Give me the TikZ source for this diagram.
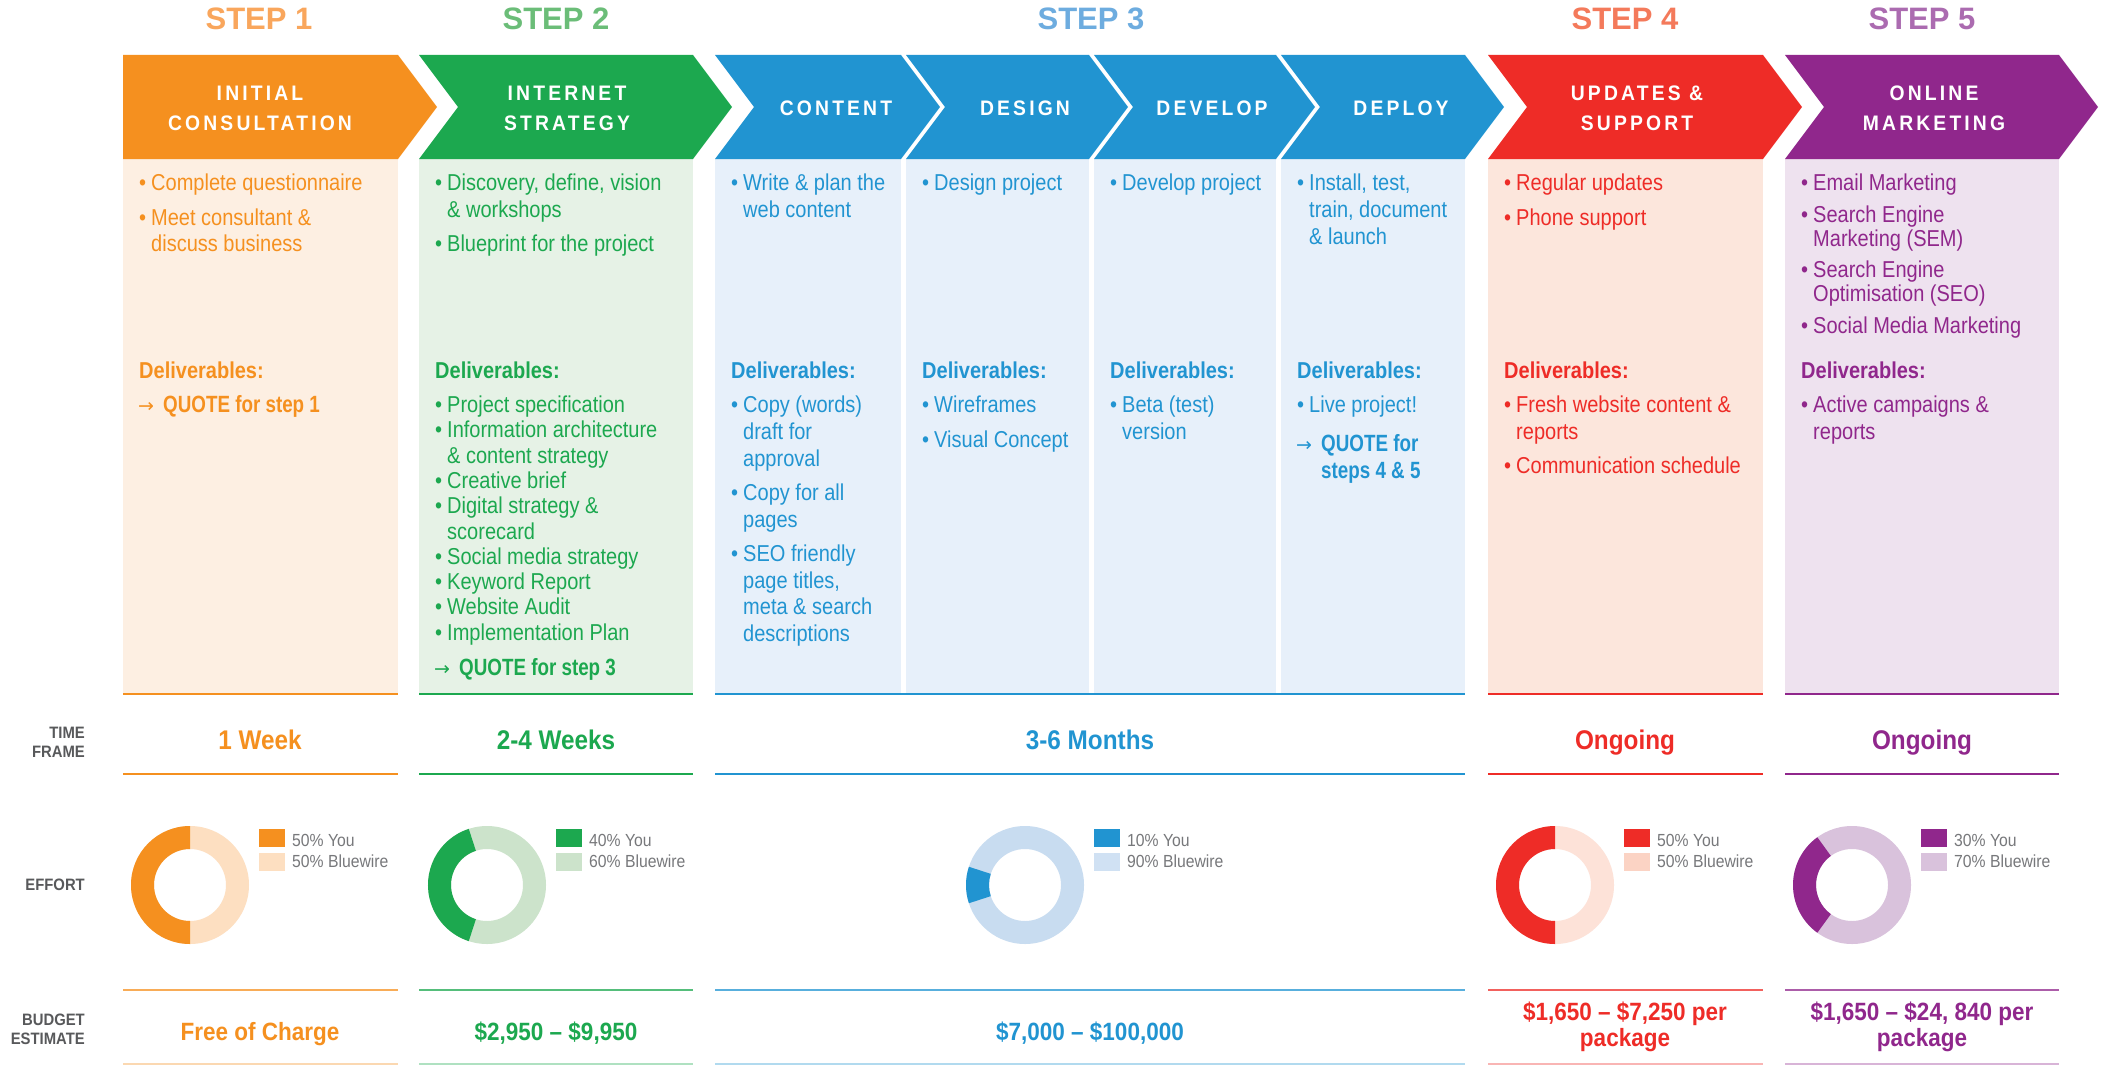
\documentclass[tikz,border=0pt]{standalone}
\usepackage{fontspec}
\setmainfont{Liberation Sans}
\newfontfamily\cnd[FakeStretch=0.87]{Liberation Sans}
\newfontfamily\cnn[FakeStretch=0.9]{Liberation Sans}
\newfontfamily\cnq[FakeStretch=0.8]{Liberation Sans}
\newfontfamily\hdf[FakeStretch=0.92,LetterSpace=15]{Liberation Sans}
\newfontfamily\arw{DejaVu Sans}
\definecolor{cO}{HTML}{F5901F}
\definecolor{cG}{HTML}{1CA84F}
\definecolor{cB}{HTML}{2194D1}
\definecolor{cR}{HTML}{EE2C27}
\definecolor{cP}{HTML}{90278C}
\definecolor{sO}{HTML}{F9A65C}
\definecolor{sG}{HTML}{6BBD78}
\definecolor{sB}{HTML}{6DACDF}
\definecolor{sR}{HTML}{F47A5B}
\definecolor{sP}{HTML}{AB6BB0}
\definecolor{bO}{HTML}{FDEFE2}
\definecolor{bG}{HTML}{E6F2E6}
\definecolor{bB}{HTML}{E7F0FA}
\definecolor{bR}{HTML}{FCE6DC}
\definecolor{bP}{HTML}{EEE2EF}
\definecolor{dO}{HTML}{FDDFC1}
\definecolor{dG}{HTML}{CCE3CB}
\definecolor{dB}{HTML}{C8DCF0}
\definecolor{dR}{HTML}{FDE2D8}
\definecolor{dP}{HTML}{D9C2DC}
\definecolor{lR}{HTML}{FBD3C4}
\definecolor{lB}{HTML}{D0E1F3}
\definecolor{gL}{HTML}{58595B}
\definecolor{gT}{HTML}{77787B}
\tikzset{
  bt/.style={inner sep=0pt,anchor=base west,font={\cnd\fontsize{23}{25}\selectfont}},
  ar/.style={inner sep=0pt,anchor=base west,font={\arw\fontsize{19}{21}\selectfont}},
  dv/.style={inner sep=0pt,anchor=base west,font={\cnd\bfseries\fontsize{23}{25}\selectfont}},
  qt/.style={inner sep=0pt,anchor=base west,font={\cnq\bfseries\fontsize{23.5}{25}\selectfont}},
  steplbl/.style={inner sep=0pt,anchor=base,font={\bfseries\fontsize{31}{33}\selectfont}},
  hdr/.style={inner sep=0pt,anchor=base,text=white,font={\hdf\bfseries\fontsize{21}{23}\selectfont}},
  tfv/.style={inner sep=0pt,anchor=base,font={\cnn\bfseries\fontsize{27}{29}\selectfont}},
  bgv/.style={inner sep=0pt,anchor=base,font={\cnn\bfseries\fontsize{25}{27}\selectfont}},
  rowlbl/.style={inner sep=0pt,anchor=base east,text=gL,font={\cnn\bfseries\fontsize{16.5}{18}\selectfont}},
  lg/.style={inner sep=0pt,anchor=base west,text=gT,font={\cnn\fontsize{17.5}{19}\selectfont}},
}
% bullet line: name, colour, L, y, text
\newcommand\bl[5]{\node[bt,text=#2] (#1d) at (#3+16,#4) {•};\node[bt,text=#2] (#1) at (#3+28,#4) {#5};}
% continuation line
\newcommand\cl[5]{\node[bt,text=#2] (#1) at (#3+28,#4) {#5};}
% deliverables heading
\newcommand\dl[4]{\node[dv,text=#2] (#1) at (#3+16,#4) {Deliverables:};}
% quote line
\newcommand\ql[5]{\node[ar,text=#2] (#1a) at (#3+15,#4) {→};\node[qt,text=#2] (#1) at (#3+40,#4) {#5};}
% chevron: colour, L, R, notch depth
\newcommand\chev[4]{\fill[#1] (#2,55) -- (#3,55) -- (#3+39,107) -- (#3,159) -- (#2,159) -- (#2+#4,107) -- cycle;}
% donut: name, cx, cy, half angle, dark, light
\newcommand\donut[6]{%
  \coordinate (#1) at (#2,#3);
  \begin{scope}[shift={(#1)},y=1pt]
    \fill[#6,even odd rule] (0,0) circle[radius=59] (0,0) circle[radius=36];
    \fill[#5] (180-#4:59) arc[start angle=180-#4,end angle=180+#4,radius=59]
      -- (180+#4:36) arc[start angle=180+#4,end angle=180-#4,radius=36] -- cycle;
  \end{scope}}
% legend: name, cx, dark, light, pct you, pct bluewire
\newcommand\lgd[6]{%
  \fill[#3] (#2+69,829) rectangle ++(26,18);
  \fill[#4] (#2+69,853) rectangle ++(26,18);
  \node[lg] (#1y) at (#2+102,846) {#5\% You};
  \node[lg] (#1w) at (#2+102,867) {#6\% Bluewire};}
% row lines: colour, L, R
\newcommand\rows[3]{%
  \draw[#1,line width=2pt] (#2,694) -- (#3,694);
  \draw[#1,line width=2pt] (#2,774) -- (#3,774);
  \draw[#1!75,line width=2.5pt] (#2,990) -- (#3,990);
  \draw[#1!35,line width=2pt] (#2,1063.5) -- (#3,1063.5);}
\begin{document}
\begin{tikzpicture}[x=1pt,y=-1pt]
\useasboundingbox (0,0) rectangle (2103,1065);
\fill[white] (0,0) rectangle (2103,1065);

% ---------- bodies ----------
\fill[bO] (123,159) rectangle (398,694);
\fill[bG] (419,159) rectangle (693,694);
\fill[bB] (715,159) rectangle (901,694);
\fill[bB] (906,159) rectangle (1089,694);
\fill[bB] (1094,159) rectangle (1276,694);
\fill[bB] (1281,159) rectangle (1465,694);
\fill[bR] (1488,159) rectangle (1763,694);
\fill[bP] (1785,159) rectangle (2059,694);

% ---------- chevrons ----------
\chev{cO}{123}{398}{0}
\chev{cG}{419}{693}{39}
\chev{cB}{715}{901}{39}
\chev{cB}{906}{1089}{39}
\chev{cB}{1094}{1276}{39}
\chev{cB}{1281}{1465}{39}
\chev{cR}{1488}{1763}{39}
\chev{cP}{1785}{2059}{39}

% ---------- step labels ----------
\node[steplbl,text=sO] (s1) at (259,30) {STEP 1};
\node[steplbl,text=sG] (s2) at (556,30) {STEP 2};
\node[steplbl,text=sB] (s3) at (1091,30) {STEP 3};
\node[steplbl,text=sR] (s4) at (1625,30) {STEP 4};
\node[steplbl,text=sP] (s5) at (1922,30) {STEP 5};

% ---------- chevron headers ----------
\node[hdr] (h1a) at (260,100) {INITIAL};
\node[hdr] (h1b) at (260,130.5) {CONSULTATION};
\node[hdr] (h2a) at (567,100) {INTERNET};
\node[hdr] (h2b) at (567,130.5) {STRATEGY};
\node[hdr] (h3a) at (836,115) {CONTENT};
\node[hdr] (h3b) at (1025,115) {DESIGN};
\node[hdr] (h3c) at (1212,115) {DEVELOP};
\node[hdr] (h3d) at (1401,115) {DEPLOY};
\node[hdr] (h4a) at (1637,100) {UPDATES \&};
\node[hdr] (h4b) at (1637,130.5) {SUPPORT};
\node[hdr] (h5a) at (1934,100) {ONLINE};
\node[hdr] (h5b) at (1934,130.5) {MARKETING};

% ---------- step 1 ----------
\bl{a1}{cO}{123}{190}{Complete questionnaire}
\bl{a2}{cO}{123}{225}{Meet consultant \&}
\cl{a2b}{cO}{123}{251}{discuss business}
\dl{a3}{cO}{123}{378}
\ql{a4}{cO}{123}{412}{QUOTE for step 1}

% ---------- step 2 ----------
\bl{b1}{cG}{419}{190}{Discovery, define, vision}
\cl{b1b}{cG}{419}{217}{\& workshops}
\bl{b2}{cG}{419}{251}{Blueprint for the project}
\dl{b3}{cG}{419}{378}
\bl{b4}{cG}{419}{412}{Project specification}
\bl{b5}{cG}{419}{437.5}{Information architecture}
\cl{b5b}{cG}{419}{463}{\& content strategy}
\bl{b6}{cG}{419}{488}{Creative brief}
\bl{b7}{cG}{419}{513.5}{Digital strategy \&}
\cl{b7b}{cG}{419}{539}{scorecard}
\bl{b8}{cG}{419}{564}{Social media strategy}
\bl{b9}{cG}{419}{589}{Keyword Report}
\bl{b10}{cG}{419}{614.5}{Website Audit}
\bl{b11}{cG}{419}{640}{Implementation Plan}
\ql{b12}{cG}{419}{675}{QUOTE for step 3}

% ---------- step 3: content ----------
\bl{c1}{cB}{715}{190}{Write \& plan the}
\cl{c1b}{cB}{715}{217}{web content}
\dl{c2}{cB}{715}{378}
\bl{c3}{cB}{715}{412}{Copy (words)}
\cl{c3b}{cB}{715}{439}{draft for}
\cl{c3c}{cB}{715}{466}{approval}
\bl{c4}{cB}{715}{500}{Copy for all}
\cl{c4b}{cB}{715}{527}{pages}
\bl{c5}{cB}{715}{561}{SEO friendly}
\cl{c5b}{cB}{715}{588}{page titles,}
\cl{c5c}{cB}{715}{614}{meta \& search}
\cl{c5d}{cB}{715}{641}{descriptions}

% ---------- design ----------
\bl{d1}{cB}{906}{190}{Design project}
\dl{d2}{cB}{906}{378}
\bl{d3}{cB}{906}{412}{Wireframes}
\bl{d4}{cB}{906}{447}{Visual Concept}

% ---------- develop ----------
\bl{e1}{cB}{1094}{190}{Develop project}
\dl{e2}{cB}{1094}{378}
\bl{e3}{cB}{1094}{412}{Beta (test)}
\cl{e3b}{cB}{1094}{439}{version}

% ---------- deploy ----------
\bl{f1}{cB}{1281}{190}{Install, test,}
\cl{f1b}{cB}{1281}{217}{train, document}
\cl{f1c}{cB}{1281}{244}{\& launch}
\dl{f2}{cB}{1281}{378}
\bl{f3}{cB}{1281}{412}{Live project!}
\ql{f4}{cB}{1281}{451}{QUOTE for}
\node[qt,text=cB] (f4b) at (1281+40,478) {steps 4 \& 5};

% ---------- step 4 ----------
\bl{g1}{cR}{1488}{190}{Regular updates}
\bl{g2}{cR}{1488}{225}{Phone support}
\dl{g3}{cR}{1488}{378}
\bl{g4}{cR}{1488}{412}{Fresh website content \&}
\cl{g4b}{cR}{1488}{439}{reports}
\bl{g5}{cR}{1488}{473}{Communication schedule}

% ---------- step 5 ----------
\bl{k1}{cP}{1785}{190}{Email Marketing}
\bl{k2}{cP}{1785}{222}{Search Engine}
\cl{k2b}{cP}{1785}{246}{Marketing (SEM)}
\bl{k3}{cP}{1785}{277}{Search Engine}
\cl{k3b}{cP}{1785}{301}{Optimisation (SEO)}
\bl{k4}{cP}{1785}{333}{Social Media Marketing}
\dl{k5}{cP}{1785}{378}
\bl{k6}{cP}{1785}{412}{Active campaigns \&}
\cl{k6b}{cP}{1785}{439}{reports}

% ---------- row lines ----------
\rows{cO}{123}{398}
\rows{cG}{419}{693}
\rows{cB}{715}{1465}
\rows{cR}{1488}{1763}
\rows{cP}{1785}{2059}

% ---------- row labels ----------
\node[rowlbl] (rt1) at (85,738) {TIME};
\node[rowlbl] (rt2) at (85,757) {FRAME};
\node[rowlbl] (re1) at (85,890) {EFFORT};
\node[rowlbl] (rb1) at (85,1025) {BUDGET};
\node[rowlbl] (rb2) at (85,1044) {ESTIMATE};

% ---------- time frame ----------
\node[tfv,text=cO] (t1) at (260,749) {1 Week};
\node[tfv,text=cG] (t2) at (556,749) {2-4 Weeks};
\node[tfv,text=cB] (t3) at (1090,749) {3-6 Months};
\node[tfv,text=cR] (t4) at (1625,749) {Ongoing};
\node[tfv,text=cP] (t5) at (1922,749) {Ongoing};

% ---------- effort donuts ----------
\donut{n1}{190}{885}{90}{cO}{dO}
\donut{n2}{487}{885}{72}{cG}{dG}
\donut{n3}{1025}{885}{18}{cB}{dB}
\donut{n4}{1555}{885}{90}{cR}{dR}
\donut{n5}{1852}{885}{54}{cP}{dP}
\lgd{l1}{190}{cO}{dO}{50}{50}
\lgd{l2}{487}{cG}{dG}{40}{60}
\lgd{l3}{1025}{cB}{lB}{10}{90}
\lgd{l4}{1555}{cR}{lR}{50}{50}
\lgd{l5}{1852}{cP}{dP}{30}{70}

% ---------- budget ----------
\node[bgv,text=cO] (u1) at (260,1040) {Free of Charge};
\node[bgv,text=cG] (u2) at (556,1040) {\$2,950 – \$9,950};
\node[bgv,text=cB] (u3) at (1090,1040) {\$7,000 – \$100,000};
\node[bgv,text=cR] (u4a) at (1625,1020) {\$1,650 – \$7,250 per};
\node[bgv,text=cR] (u4b) at (1625,1046) {package};
\node[bgv,text=cP] (u5a) at (1922,1020) {\$1,650 – \$24, 840 per};
\node[bgv,text=cP] (u5b) at (1922,1046) {package};
\end{tikzpicture}
\end{document}
